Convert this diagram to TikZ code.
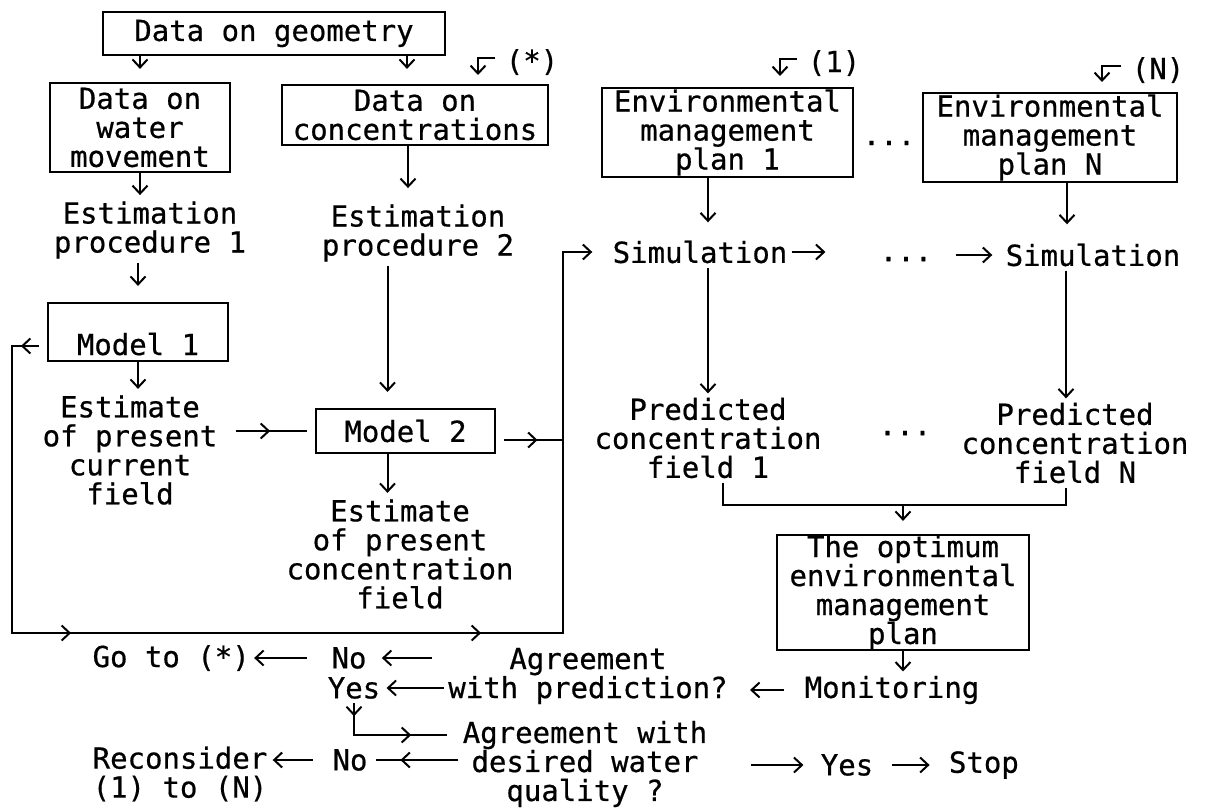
\documentclass[tikz,border=0pt]{standalone}
\usepackage{fontspec}
\setmainfont{DejaVu Sans Mono}[FakeBold=0.6]
\usetikzlibrary{positioning,arrows.meta,decorations.markings}
\tikzstyle{bbox}=[rectangle, draw=black, line width=1.1pt, inner sep=0pt, align=center]
\tikzstyle{tbox}=[inner sep=2pt, align=center]
\tikzstyle{pline}=[-, line width=1pt]
\tikzstyle{aline}=[->, line width=1pt]
\tikzset{marrow/.style={postaction={decorate, decoration={markings, mark=at position #1 with {\arrow{>}}}}}}

\begin{document}
\begin{tikzpicture}[x=0.5pt, y=-0.5pt, >={Straight Barb[length=4pt, width=7.5pt]},
  font=\fontsize{14.5pt}{14.5pt}\selectfont]
\useasboundingbox (0,0) rectangle (1214,808);

\node (GEOM) [bbox, minimum width=171pt, minimum height=21.5pt] at (274,33.5) {Data on geometry};
\node (WATMOV) [bbox, minimum width=90pt, minimum height=44.5pt] at (140,127.5) {Data on\\water\\movement};
\node (CONC) [bbox, minimum width=133pt, minimum height=30pt] at (415,115) {Data on\\concentrations};
\node (EMP1) [bbox, minimum width=125.5pt, minimum height=44.5pt] at (727.5,132.5) {Environmental\\management\\plan 1};
\node (EMPN) [bbox, minimum width=127pt, minimum height=44.5pt] at (1050,137.5) {Environmental\\management\\plan N};
\node (DOTSA) [tbox] at (889,143) {...};

\node (STAR) [tbox] at (532,62) {(*)};
\node (ONE) [tbox] at (834,63) {(1)};
\node (NN) [tbox] at (1158,70) {(N)};
\coordinate (STARTIP) at (478,75);
\coordinate (ONETIP) at (780,76);
\coordinate (NNTIP) at (1102,82);

\node (EST1) [tbox] at (150,230) {Estimation\\procedure 1};
\node (EST2) [tbox] at (418,233) {Estimation\\procedure 2};
\node (MOD1) [bbox, minimum width=90pt, text height=26pt, text depth=3pt] at (138,332) {Model 1};
\node (CURF) [tbox] at (130,450) {Estimate\\of present\\current\\field};
\node (MOD2) [bbox, minimum width=89.5pt, minimum height=22pt] at (405.5,431) {Model 2};
\node (CONCF) [tbox] at (400,554) {Estimate\\of present\\concentration\\field};

\node (SIM1) [tbox] at (700,252) {Simulation};
\node (DOTSB) [tbox] at (906,259) {...};
\node (SIMN) [tbox] at (1093,255) {Simulation};
\node (PRED1) [tbox] at (708,438) {Predicted\\concentration\\field 1};
\node (DOTSC) [tbox] at (905,433) {...};
\node (PREDN) [tbox] at (1075,443) {Predicted\\concentration\\field N};
\node (OPT) [bbox, minimum width=126pt, minimum height=57.5pt] at (903,592.5) {The optimum\\environmental\\management\\plan};

\node (NO1) [tbox] at (349,658) {No};
\node (GOTO) [tbox, left=36.5pt of NO1] {Go to (*)};
\node (YES1) [tbox] at (354,688) {Yes};
\node (AGR1) [tbox] at (588,676) {Agreement\\with prediction?};
\node (MON) [tbox] at (892,690) {Monitoring};
\node (AGR2) [tbox] at (585,764) {Agreement with\\desired water\\quality ?};
\node (NO2) [tbox] at (350,760) {No};
\node (RECON) [tbox, align=left] at (180,774) {Reconsider\\(1) to (N)};
\node (YES2) [tbox] at (847,765) {Yes};
\node (STOP) [tbox, right=33.5pt of YES2] {Stop};

\coordinate (LTL) at (12,346);
\coordinate (LBL) at (12,633);
\coordinate (LBR) at (563,633);
\coordinate (LTR) at (563,252);
\coordinate (J1) at (723,505);
\coordinate (JN) at (1066,505);

\draw[aline, shorten >=6.5pt] (GEOM.south -| WATMOV.north) -- (WATMOV.north);
\draw[aline, shorten >=7.5pt] ([xshift=-4pt]CONC.north |- GEOM.south) -- ([xshift=-4pt]CONC.north);
\draw[aline, shorten <=3pt] ([yshift=2pt]STAR.west) -| (STARTIP);
\draw[aline, shorten <=3pt] ([yshift=2pt]ONE.west) -| (ONETIP);
\draw[aline, shorten <=3pt] ([yshift=2pt]NN.west) -| (NNTIP);
\draw[aline, shorten >=1pt] (WATMOV.south) -- (WATMOV.south |- EST1.north);
\draw[aline, shorten >=6pt] ([xshift=-3.5pt]CONC.south) -- ([xshift=-3.5pt]CONC.south |- EST2.north);
\draw[aline, shorten >=8pt] (EST1.south -| MOD1.north) -- (MOD1.north);
\draw[aline, shorten >=8pt] ([xshift=-9pt]MOD2.north |- EST2.south) -- ([xshift=-9pt]MOD2.north);
\draw[aline, shorten >=1pt] (MOD1.south) -- (MOD1.south |- CURF.north);
\draw[aline, shorten >=1pt] ([xshift=-9pt]MOD2.south) -- ([xshift=-9pt]MOD2.south |- CONCF.north);
\draw[pline, marrow=0.52, shorten <=7pt, shorten >=4pt] (CURF.east |- MOD2.west) -- (MOD2.west);
\draw[pline, marrow=0.62, shorten <=4pt] ([yshift=-4.5pt]MOD2.east) -- ([yshift=-4.5pt]MOD2.east -| LBR);
\draw[aline, shorten <=4pt, shorten >=8pt, marrow=13pt, marrow=190.5pt, marrow=395.5pt]
  (MOD1.west |- LTL) -- (LTL) -- (LBL) -- (LBR) -- (LTR) -- (SIM1.west);

\draw[aline, shorten >=7pt] ([xshift=4pt]SIM1.north |- EMP1.south) -- ([xshift=4pt]SIM1.north);
\draw[aline, shorten >=7.5pt] ([xshift=-13pt]SIMN.north |- EMPN.south) -- ([xshift=-13pt]SIMN.north);
\draw[aline, shorten >=25pt] (SIM1.east) -- (SIM1.east -| DOTSB.west);
\draw[aline, shorten <=9.5pt, shorten >=4.5pt] (DOTSB.east |- SIMN.west) -- (SIMN.west);
\draw[aline] ([xshift=4pt]SIM1.south) -- ([xshift=4pt]SIM1.south |- PRED1.north);
\draw[aline] ([xshift=-13.5pt]SIMN.south) -- ([xshift=-13.5pt]SIMN.south |- PREDN.north);
\draw[pline] (PRED1.south -| J1) -- (J1) -- (JN) -- (PREDN.south -| JN);
\draw[aline, shorten >=6.5pt] (OPT.north |- J1) -- (OPT.north);
\draw[aline] (OPT.south) -- (OPT.south |- MON.north);

\draw[aline, shorten <=8pt, shorten >=9pt] (MON.west) -- (MON.west -| AGR1.east);
\draw[aline, shorten <=6pt, shorten >=5.5pt] (AGR1.west |- NO1.east) -- (NO1.east);
\draw[aline, shorten >=1pt] (AGR1.west |- YES1.east) -- (YES1.east);
\draw[aline, shorten <=10pt] (NO1.west) -- (NO1.west -| GOTO.east);
\draw[pline, marrow=6.5pt, marrow=44.5pt, shorten >=5.5pt] (YES1.south) |- ([yshift=14.5pt]AGR2.west);
\draw[pline, marrow=29pt, shorten >=2pt] (AGR2.west |- NO2.east) -- (NO2.east);
\draw[aline, shorten <=7.5pt, shorten >=0.5pt] (NO2.west) -- (NO2.west -| RECON.east);
\draw[aline, shorten <=19.5pt, shorten >=6.5pt] (AGR2.east |- YES2.west) -- (YES2.west);
\draw[aline, shorten <=7pt, shorten >=7.5pt] (YES2.east) -- (STOP.west);

\end{tikzpicture}
\end{document}
